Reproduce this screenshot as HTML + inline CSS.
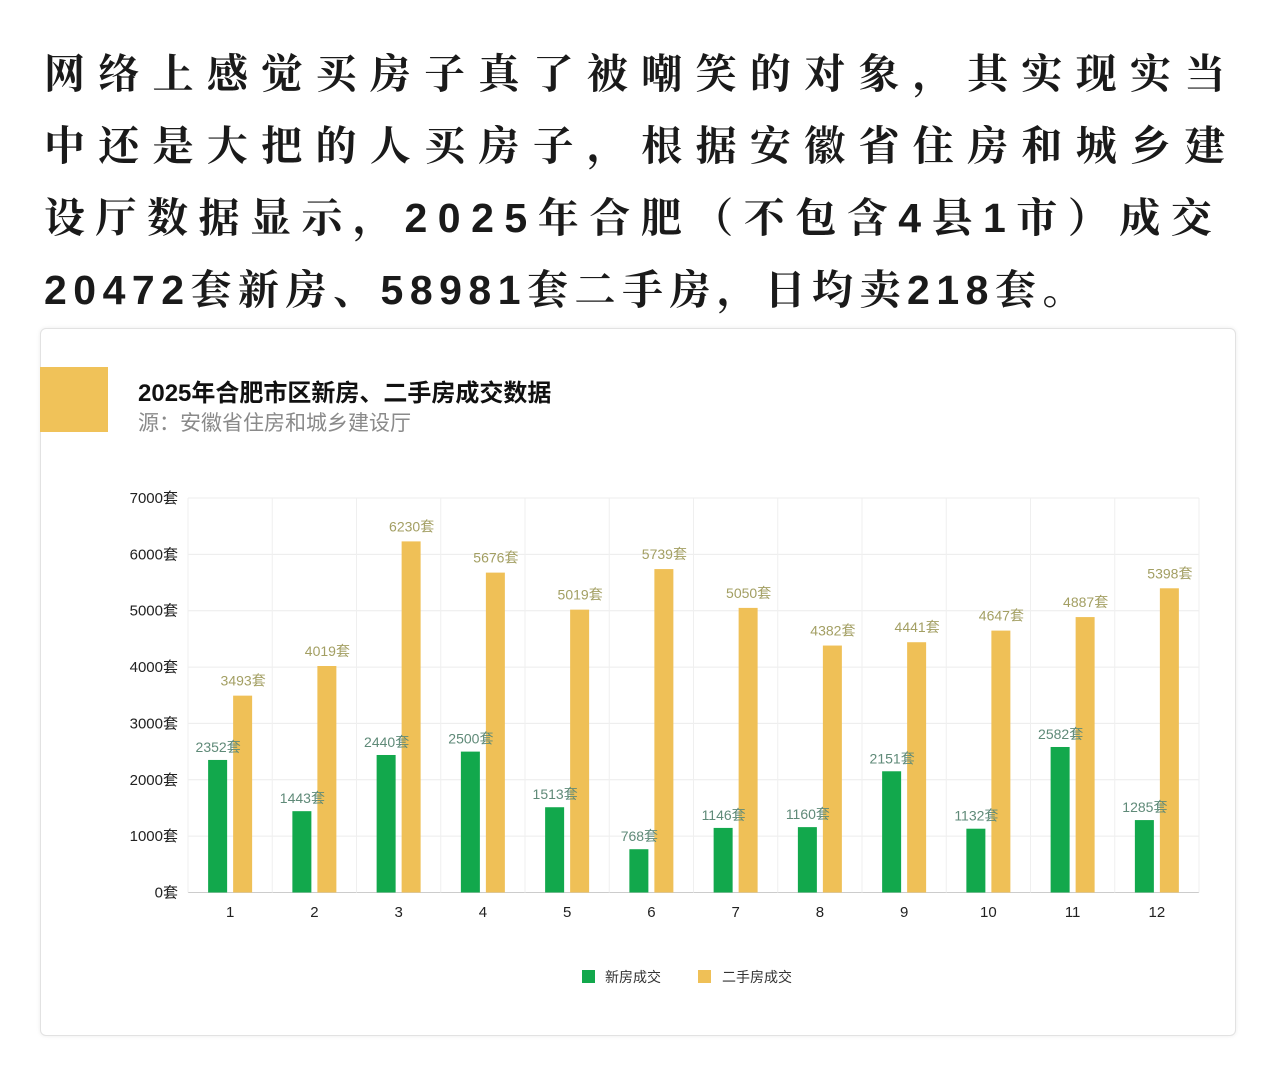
<!DOCTYPE html>
<html lang="zh">
<head>
<meta charset="utf-8">
<style>
  html,body{margin:0;padding:0;background:#fff;}
  body{width:1278px;height:1074px;position:relative;overflow:hidden;font-family:"Liberation Sans","Noto Sans CJK SC",sans-serif;}
  .intro{position:absolute;left:44px;top:38px;width:1220px;font-family:"Liberation Sans","Noto Serif CJK SC",serif;font-size:41px;font-weight:bold;color:#1a1a1a;line-height:72px;}
  .intro div{white-space:nowrap;}
  .card{position:absolute;left:40px;top:328px;width:1194px;height:706px;border:1px solid #e2e2e2;border-radius:6px;background:#fff;box-shadow:0 0 4px rgba(0,0,0,0.08);}
  .mark{position:absolute;left:40px;top:367px;width:68px;height:65px;background:#f0c259;}
  .title{position:absolute;left:138px;top:373px;font-size:24px;font-weight:bold;color:#111;}
  .sub{position:absolute;left:138px;top:407px;font-size:21px;color:#8a8a8a;}
  svg{position:absolute;left:0;top:0;}
</style>
</head>
<body>
<div class="intro">
  <div style="letter-spacing:13.3px">网络上感觉买房子真了被嘲笑的对象，其实现实当</div>
  <div style="letter-spacing:13.3px">中还是大把的人买房子，根据安徽省住房和城乡建</div>
  <div style="letter-spacing:10.5px">设厅数据显示，2025年合肥（不包含4县1市）成交</div>
  <div style="letter-spacing:6.5px">20472套新房、58981套二手房，日均卖218套。</div>
</div>
<div class="card"></div>
<div class="mark"></div>
<div class="title">2025年合肥市区新房、二手房成交数据</div>
<div class="sub">源：安徽省住房和城乡建设厅</div>
<svg id="chart" width="1278" height="1074"></svg>
<script>
const categories = ["1","2","3","4","5","6","7","8","9","10","11","12"];
const newHomes = [2352,1443,2440,2500,1513,768,1146,1160,2151,1132,2582,1285];
const resale = [3493,4019,6230,5676,5019,5739,5050,4382,4441,4647,4887,5398];
const yTicks = [0,1000,2000,3000,4000,5000,6000,7000];
const yMax = 7000;

const svg = document.getElementById('chart');
const NS = 'http://www.w3.org/2000/svg';
const X0 = 188, X1 = 1199, Y0 = 892.5, Y1 = 498;
const step = (X1 - X0) / categories.length;
function yScale(v){ return Y0 - (v / yMax) * (Y0 - Y1); }
function xCenter(i){ return X0 + step * (i + 0.5); }
function mk(tag, attrs){ const e = document.createElementNS(NS, tag); for (const k in attrs) e.setAttribute(k, attrs[k]); svg.appendChild(e); return e; }

yTicks.forEach(t => {
  const y = yScale(t);
  const g = mk('line', {x1:X0, x2:X1, y1:y, y2:y, stroke: t===0 ? '#ccc' : '#ececec', 'stroke-width':1});
  
  
  const l = mk('text', {x:178, y:y+5, 'text-anchor':'end', 'font-size':15, fill:'#222'});
  l.textContent = t + '套';
  
  
});
for (let i = 0; i <= categories.length; i++) {
  const x = X0 + step * i;
  const v = mk('line', {x1:x, x2:x, y1:Y1, y2:Y0, stroke:'#efefef', 'stroke-width':1});
  
  
}
categories.forEach((c, i) => {
  const cx = xCenter(i);
  const yn = yScale(newHomes[i]);
  const b1 = mk('rect', {x:cx-22, y:yn, width:19, height:Y0-yn, fill:'#12a84c'});
  
  
  const yr = yScale(resale[i]);
  const b2 = mk('rect', {x:cx+3, y:yr, width:19, height:Y0-yr, fill:'#efc057'});
  
  
  const t1 = mk('text', {x:cx-12, y:yn-8, 'text-anchor':'middle', 'font-size':14, fill:'#5f8a78'});
  t1.textContent = newHomes[i] + '套';
  
  
  const t2 = mk('text', {x:cx+13, y:yr-10, 'text-anchor':'middle', 'font-size':14, fill:'#a39f63'});
  t2.textContent = resale[i] + '套';
  
  
  const xl = mk('text', {x:cx, y:917, 'text-anchor':'middle', 'font-size':15, fill:'#222'});
  xl.textContent = c;
  
  
});
const lg1 = mk('rect', {x:582, y:970, width:13, height:13, fill:'#12a84c'});


const lt1 = mk('text', {x:605, y:982, 'font-size':14, fill:'#333'});
lt1.textContent = '新房成交';


const lg2 = mk('rect', {x:698, y:970, width:13, height:13, fill:'#efc057'});


const lt2 = mk('text', {x:722, y:982, 'font-size':14, fill:'#333'});
lt2.textContent = '二手房成交';


</script>
</body>
</html>
